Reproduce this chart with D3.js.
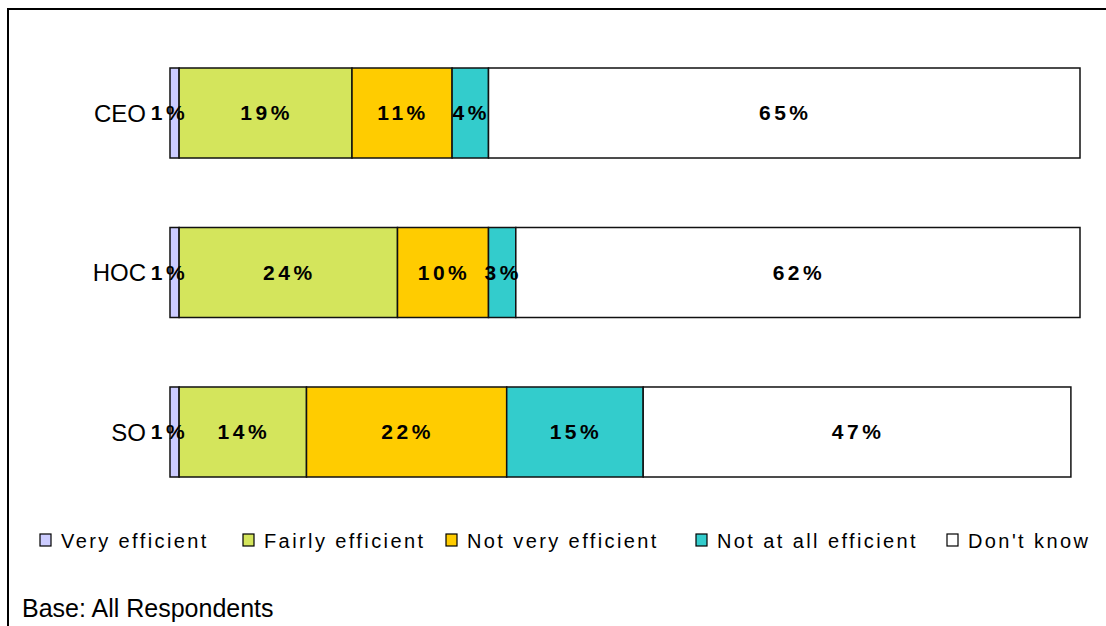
<!DOCTYPE html>
<html>
<head>
<meta charset="utf-8">
<script src="https://cdn.jsdelivr.net/npm/d3@7"></script>
<style>
  html, body { margin: 0; padding: 0; background: #fff; }
  svg { display: block; font-family: "Liberation Sans", Arial, sans-serif; }
</style>
</head>
<body>
<svg id="chart" width="1106" height="626"></svg>
<script>
// Respondent groups (top to bottom)
const categories = ["CEO", "HOC", "SO"];
// Response options, stacked left to right
const seriesNames = ["Very efficient", "Fairly efficient", "Not very efficient", "Not at all efficient", "Don't know"];
const seriesColors = ["#ccccff", "#d4e55c", "#ffcc00", "#33cccc", "#ffffff"];
// Percentages per series, in category order
const veryEfficient = [1, 1, 1];
const fairlyEfficient = [19, 24, 14];
const notVeryEfficient = [11, 10, 22];
const notAtAllEfficient = [4, 3, 15];
const dontKnow = [65, 62, 47];
const baseNote = "Base: All Respondents";

const seriesValues = [veryEfficient, fairlyEfficient, notVeryEfficient, notAtAllEfficient, dontKnow];

const rows = categories.map((c, i) => {
  const r = { category: c };
  seriesNames.forEach((s, j) => { r[s] = seriesValues[j][i]; });
  return r;
});
const stacked = d3.stack().keys(seriesNames)(rows);

const svg = d3.select("#chart");

// outer frame
svg.append("rect")
  .attr("x", 8).attr("y", 9).attr("width", 1200).attr("height", 700)
  .attr("fill", "none").attr("stroke", "#000").attr("stroke-width", 2);

const x = d3.scaleLinear().domain([0, 100]).range([170, 1080]);
const y = d3.scaleBand().domain(categories).range([68, 477]).paddingInner(0.4357).paddingOuter(0);
const color = d3.scaleOrdinal().domain(seriesNames).range(seriesColors);

// stacked bar segments
const layer = svg.append("g").selectAll("g")
  .data(stacked).join("g")
  .attr("fill", d => color(d.key));

layer.selectAll("rect")
  .data(d => d.map(v => ({ key: d.key, v })))
  .join("rect")
  .attr("x", d => x(d.v[0]))
  .attr("y", d => y(d.v.data.category))
  .attr("width", d => x(d.v[1]) - x(d.v[0]))
  .attr("height", y.bandwidth())
  .attr("stroke", "#111")
  .attr("stroke-width", 1.5);

// value labels (narrow slivers get their label nudged left of centre)
const labels = svg.append("g");
stacked.forEach(s => {
  s.forEach(v => {
    const w = x(v[1]) - x(v[0]);
    const nudge = w < 20 ? -5 : 1;
    labels.append("text")
      .attr("x", (x(v[0]) + x(v[1])) / 2 + nudge)
      .attr("y", y(v.data.category) + y.bandwidth() / 2 + 7)
      .attr("text-anchor", "middle")
      .attr("font-size", 21)
      .attr("font-weight", "bold")
      .attr("letter-spacing", 3.5)
      .attr("fill", "#000")
      .text(v[1] - v[0] + "%");
  });
});

// category axis labels
const yAxis = d3.axisLeft(y).tickSize(0).tickPadding(0);
const yg = svg.append("g").attr("transform", "translate(146,0)").call(yAxis);
yg.select(".domain").remove();
yg.selectAll("text")
  .attr("font-size", 24)
  .attr("font-family", "Liberation Sans, Arial, sans-serif")
  .attr("fill", "#000")
  .attr("dy", "0.36em");

// legend
const legendX = [40, 243, 446, 696, 947];
const legend = svg.append("g");
seriesNames.forEach((s, i) => {
  const g = legend.append("g").attr("transform", `translate(${legendX[i]},534)`);
  g.append("rect").attr("x", 0).attr("y", 0).attr("width", 11).attr("height", 12)
    .attr("fill", color(s)).attr("stroke", "#000").attr("stroke-width", 1.2);
  g.append("text").attr("x", 21).attr("y", 14)
    .attr("font-size", 20).attr("letter-spacing", 2.4).attr("fill", "#000")
    .text(s);
});

// base note
svg.append("text")
  .attr("x", 22).attr("y", 617)
  .attr("font-size", 25).attr("fill", "#000")
  .text(baseNote);
</script>
</body>
</html>
